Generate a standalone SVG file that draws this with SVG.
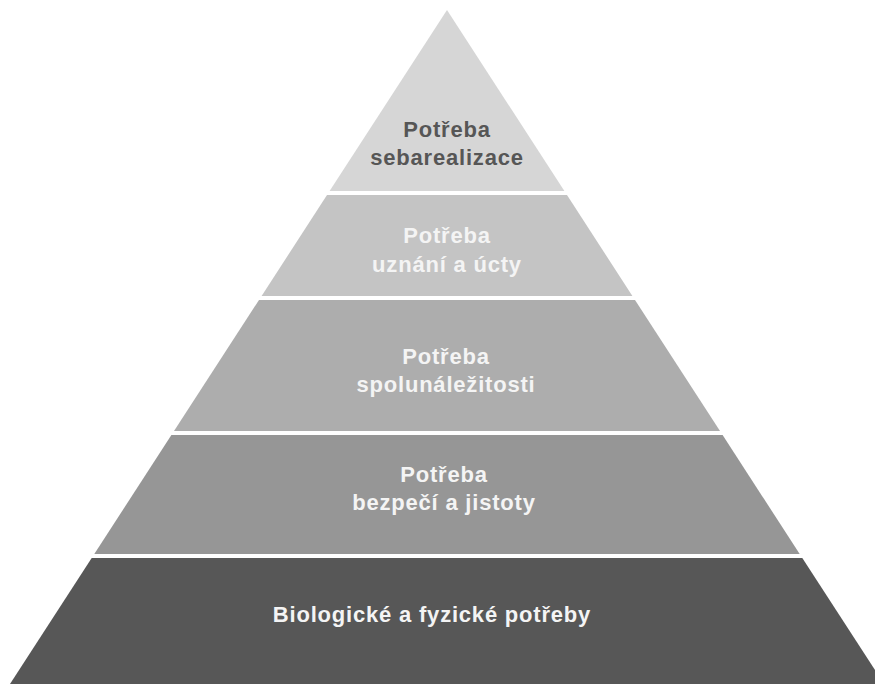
<svg xmlns="http://www.w3.org/2000/svg" width="875" height="684" viewBox="0 0 875 684">
<style>
text{font-family:"Liberation Sans",Arial,sans-serif;font-weight:bold;font-size:22px;letter-spacing:0.8px;text-anchor:middle}
.lt{fill:#f4f4f4}
.dk{fill:#565656}
</style>
<rect width="875" height="684" fill="#ffffff"/>
<g id="level5">
<polygon points="447,10 564.4,191 329.6,191" fill="#d6d6d6"/>
<text class="dk" x="447" y="137">Potřeba</text>
<text class="dk" x="447" y="165">sebarealizace</text>
</g>
<g id="level4">
<polygon points="327,195 567,195 632.4,296 261.6,296" fill="#c4c4c4"/>
<text class="lt" x="447" y="243">Potřeba</text>
<text class="lt" x="447" y="272">uznání a úcty</text>
</g>
<g id="level3">
<polygon points="259,300 635,300 720,431 174,431" fill="#adadad"/>
<text class="lt" x="446" y="364">Potřeba</text>
<text class="lt" x="446" y="392">spolunáležitosti</text>
</g>
<g id="level2">
<polygon points="171.4,435 722.6,435 799.7,554 94.3,554" fill="#969696"/>
<text class="lt" x="444" y="482">Potřeba</text>
<text class="lt" x="444" y="510">bezpečí a jistoty</text>
</g>
<g id="level1">
<polygon points="91.7,558 802.3,558 884,684 10,684" fill="#575757"/>
<text class="lt" x="432" y="622">Biologické a fyzické potřeby</text>
</g>
<g id="connectors"></g>
</svg>
